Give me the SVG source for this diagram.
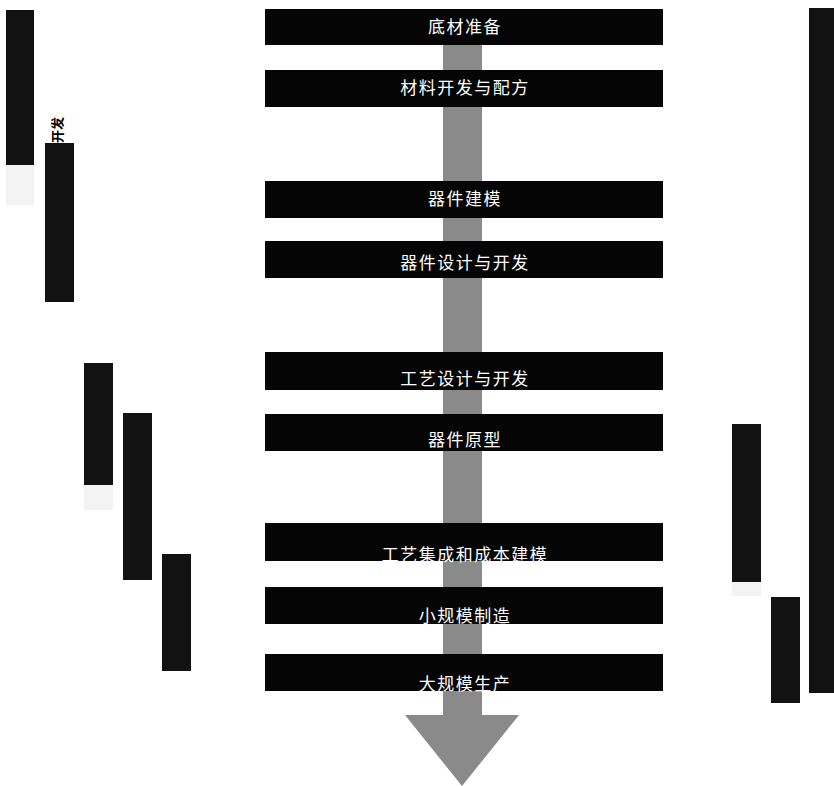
<svg xmlns="http://www.w3.org/2000/svg" width="834" height="786" viewBox="0 0 834 786">
<defs>
<style>
.box{fill:#050505}
.lbl{fill:#ffffff;font-family:"Noto Sans CJK SC","Noto Sans",sans-serif;font-size:17px;letter-spacing:1.5px;text-anchor:middle}
.bar{fill:#121212}
.fringe{fill:#d8d8d8;opacity:0.3}
.arrow{fill:#8a8a8a}
.side{fill:#000;font-family:"Noto Sans CJK SC","Noto Sans",sans-serif;font-size:13px;font-weight:bold;text-anchor:middle}
</style>
</defs>
<rect width="834" height="786" fill="#fff"/>
<g id="connectors">
<rect class="arrow" x="443" y="40" width="39" height="676"/>
<polygon class="arrow" points="405,715 519,715 462,786"/>
</g>
<g id="left-bars">
<rect class="fringe" x="6" y="165" width="28" height="40"/>
<rect class="bar" x="6" y="10" width="28" height="155"/>
<rect class="bar" x="45" y="143" width="29" height="159"/>
<rect class="fringe" x="84" y="485" width="29" height="25"/>
<rect class="bar" x="84" y="363" width="29" height="122"/>
<rect class="bar" x="123" y="413" width="29" height="167"/>
<rect class="bar" x="162" y="554" width="29" height="117"/>
<text class="side" transform="translate(62,130) rotate(-90)">开发</text>
</g>
<g id="right-bars">
<rect class="bar" x="809" y="8" width="25" height="685"/>
<rect class="fringe" x="732" y="582" width="29" height="14"/>
<rect class="bar" x="732" y="424" width="29" height="158"/>
<rect class="bar" x="771" y="597" width="29" height="106"/>
</g>
<g id="n1"><rect class="box" x="265" y="9" width="398" height="36"/><text class="lbl" x="465" y="33">底材准备</text></g>
<g id="n2"><rect class="box" x="265" y="70" width="398" height="37"/><text class="lbl" x="465" y="94">材料开发与配方</text></g>
<g id="n3"><rect class="box" x="265" y="181" width="398" height="37"/><text class="lbl" x="465" y="205">器件建模</text></g>
<g id="n4"><rect class="box" x="265" y="241" width="398" height="37"/><text class="lbl" x="465" y="269">器件设计与开发</text></g>
<g id="n5"><rect class="box" x="265" y="352" width="398" height="38"/><text class="lbl" x="465" y="385">工艺设计与开发</text></g>
<g id="n6"><rect class="box" x="265" y="414" width="398" height="37"/><text class="lbl" x="465" y="446">器件原型</text></g>
<g id="n7"><rect class="box" x="265" y="523" width="398" height="38"/><text class="lbl" x="465" y="561">工艺集成和成本建模</text></g>
<g id="n8"><rect class="box" x="265" y="587" width="398" height="37"/><text class="lbl" x="465" y="622">小规模制造</text></g>
<g id="n9"><rect class="box" x="265" y="654" width="398" height="37"/><text class="lbl" x="465" y="690">大规模生产</text></g>
</svg>
